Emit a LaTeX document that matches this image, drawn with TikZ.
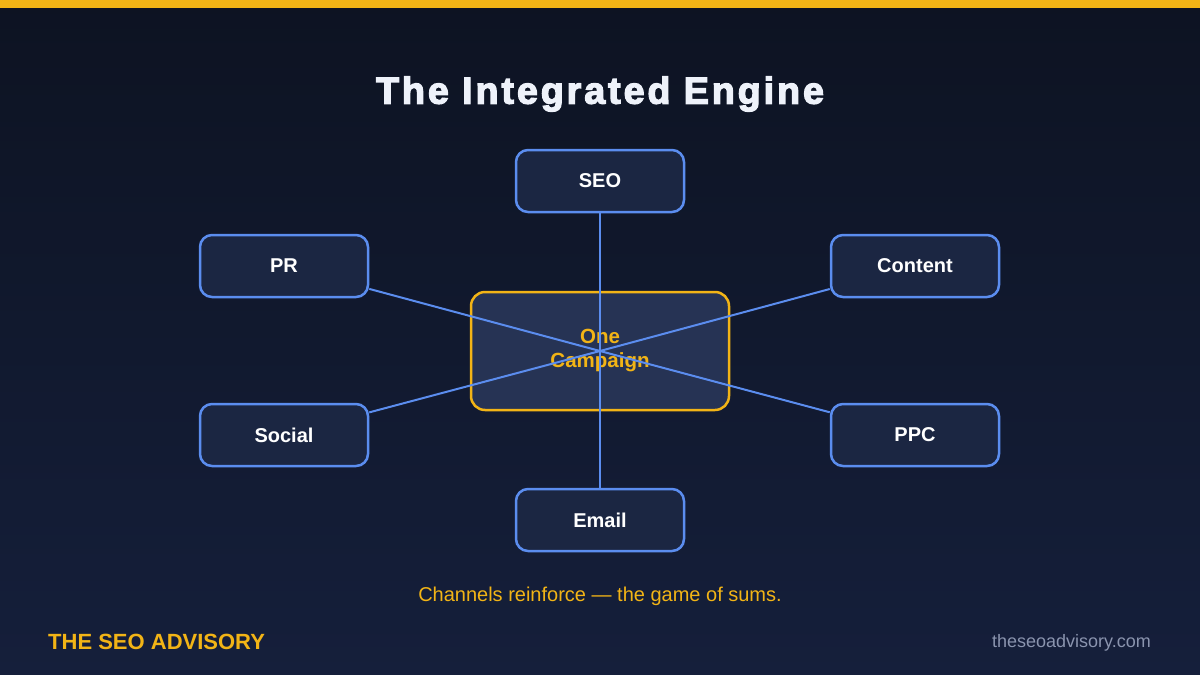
\documentclass[tikz,border=0pt]{standalone}
\usepackage{fontspec}
\setmainfont{Liberation Sans}
\newfontfamily\headfont[FakeBold=3.5,LetterSpace=8]{Liberation Sans Bold}
\usepackage{xcolor}
\usepackage{tikz}
\definecolor{bgtop}{HTML}{0D1322}
\definecolor{bgbot}{HTML}{151F3B}
\definecolor{gold}{HTML}{F2B416}
\definecolor{chanfill}{HTML}{1B2642}
\definecolor{chanline}{HTML}{5B8DEF}
\definecolor{hubfill}{HTML}{263354}
\definecolor{urlgray}{HTML}{8A94AE}
\definecolor{titlewhite}{HTML}{EEF2FA}

\begin{document}
\begin{tikzpicture}[x=1pt,y=-1pt,
		channel/.style={draw=chanline,line width=2.5pt,fill=chanfill,rounded corners=12pt,
			minimum width=168pt,minimum height=62pt,text=white,font=\fontsize{20}{24}\selectfont\bfseries},
		hub/.style={draw=gold,line width=2.5pt,fill=hubfill,rounded corners=14pt,
			minimum width=258pt,minimum height=118pt,text=gold,align=center,
			font=\fontsize{20.5}{24}\selectfont\bfseries},
		link/.style={draw=chanline,line width=2pt}]
					\useasboundingbox (0,0) rectangle (1200,675);
					\shade[top color=bgtop,bottom color=bgbot] (0,0) rectangle (1200,675);
					\fill[gold] (0,0) rectangle (1200,8);
					\node[text=titlewhite,font=\fontsize{37.5}{44}\headfont] (title) at (600,94) {The Integrated Engine};
					\node[hub] (hub) at (600,351) {One\\Campaign};
					\node[channel] (seo) at (600,181) {SEO};
					\node[channel] (pr) at (284,266) {PR};
					\node[channel] (content) at (915,266) {Content};
					\node[channel] (social) at (284,435) {Social};
					\node[channel] (ppc) at (915,435) {PPC};
					\node[channel] (email) at (600,520) {Email};
					\foreach \c in {seo,pr,content,social,ppc,email}
						\draw[link] (hub.center) -- (\c);
					\node[text=gold,font=\fontsize{20}{24}\selectfont] (caption) at (600,596) {Channels reinforce — the game of sums.};
					\node[text=gold,font=\fontsize{22}{26}\selectfont\bfseries,anchor=west,inner sep=0pt] (brand) at (48,642) {THE SEO ADVISORY};
					\node[text=urlgray,font=\fontsize{18}{22}\selectfont,anchor=east,inner sep=0pt] (url) at (1151,643) {theseoadvisory.com};
				\end{tikzpicture}
\end{document}
